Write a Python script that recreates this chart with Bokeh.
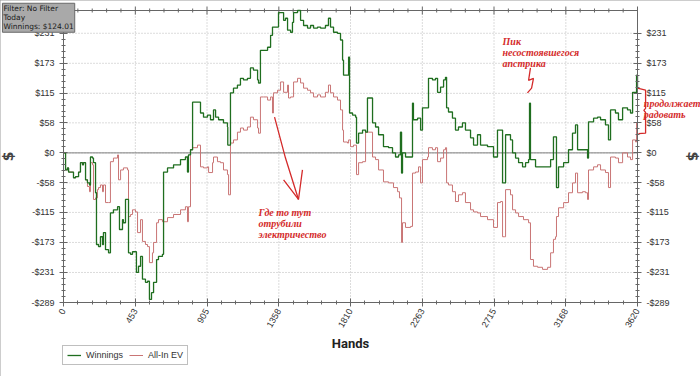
import math
from bokeh.plotting import figure
from bokeh.models import (LinearAxis, FixedTicker, Range1d, Label, Legend, LegendItem)
from bokeh.embed import file_html
from bokeh.resources import INLINE

# ---------------- data ----------------
hands_win = [0,13,25,32,63,76,95,107,120,126,139,151,164,170,183,189,202,208,221,233,
             246,252,265,284,296,315,341,353,372,378,391,404,410,423,435,454,460,473,486,498,
             517,530,542,555,568,587,599,624,631,656,694,738,769,782,788,801,814,864,883,908,
             927,946,959,978,1009,1034,1036,1053,1072,1097,1116,1135,1160,1179,1198,1224,1230,1242,1261,1287,
             1306,1318,1337,1356,1369,1388,1400,1413,1432,1444,1451,1476,1495,1514,1539,1558,1577,1602,1621,1652,
             1671,1684,1703,1728,1747,1760,1766,1791,1798,1804,1823,1842,1848,1861,1886,1905,1917,1936,1949,1968,
             1987,2018,2050,2075,2094,2113,2125,2132,2138,2157,2189,2201,2207,2233,2252,2264,2296,2302,2327,2346,
             2359,2378,2397,2409,2416,2428,2453,2472,2491,2516,2535,2567,2586,2611,2630,2674,2712,2737,2756,2769,
             2781,2788,2819,2832,2851,2870,2895,2914,2933,2939,2945,2977,3008,3040,3072,3090,3103,3109,3122,3154,
             3185,3210,3229,3242,3273,3292,3305,3311,3343,3368,3387,3418,3437,3450,3481,3500,3526,3557,3576,3589,
             3608,3614,3620]
winnings = [0,-33,-29,-37,-48,-46,-37,-19,-23,-19,-52,-58,-62,-8,-10,-19,-77,-177,-181,-162,
            -177,-154,-187,-193,-116,-110,-104,-148,-129,-135,-90,-90,-193,-196,-191,-191,-231,-219,-200,-244,
            -250,-248,-283,-270,-250,-206,-200,-196,-37,-29,-23,-13,-8,-37,-4,6,98,77,69,73,
            64,83,69,64,58,50,15,116,125,131,144,141,144,164,160,141,135,198,198,204,
            227,243,243,271,271,256,260,237,233,252,271,275,256,246,241,246,241,243,241,246,
            260,243,233,231,218,179,150,150,185,77,73,69,19,38,44,40,106,106,58,50,
            35,12,10,0,-8,-4,40,-39,0,-8,-8,96,64,67,44,87,87,144,141,144,
            117,127,141,146,87,79,67,44,50,58,44,29,15,35,15,12,-8,44,44,-58,
            -58,35,25,0,-10,-19,-27,-19,-13,96,-13,-27,-27,-27,-13,31,31,-67,-27,-19,
            6,38,54,6,6,6,-10,60,67,69,64,54,25,83,77,64,87,83,77,117,
            116,150,124]

hands_ev = [0,13,25,32,63,76,95,107,120,126,139,151,164,170,183,189,202,214,221,233,
            246,252,265,284,296,315,341,347,360,378,404,410,423,435,454,467,486,498,517,530,
            542,561,568,587,599,624,656,694,738,769,782,788,801,814,845,864,883,908,915,940,
            946,971,990,1009,1034,1041,1053,1072,1097,1116,1135,1160,1179,1198,1224,1230,1242,1261,1287,1306,
            1318,1324,1350,1369,1388,1413,1419,1432,1451,1476,1495,1514,1539,1558,1577,1602,1621,1652,1671,1684,
            1703,1728,1747,1760,1766,1791,1798,1810,1829,1848,1861,1886,1905,1924,1949,1968,1987,2018,2050,2081,
            2107,2119,2132,2138,2157,2189,2201,2220,2239,2252,2264,2296,2302,2327,2346,2359,2378,2397,2409,2416,
            2428,2453,2472,2491,2516,2535,2567,2586,2611,2630,2674,2712,2737,2756,2769,2781,2788,2819,2832,2851,
            2870,2901,2933,2945,2964,2990,3021,3053,3072,3090,3103,3109,3122,3154,3185,3210,3229,3242,3273,3292,
            3305,3311,3343,3368,3387,3418,3437,3450,3481,3500,3526,3557,3576,3589,3608,3614,3620]
allin_ev = [0,-33,-29,-37,-48,-46,-37,-19,-23,-19,-52,-65,-75,-19,-23,-90,-87,-71,-67,-62,
            -75,-62,-96,-96,-17,-10,-4,-52,-33,-29,-33,-123,-119,-110,-114,-154,-129,-171,-177,-181,
            -212,-193,-173,-135,-129,-133,-125,-119,-110,-104,-133,-104,6,10,15,-27,-29,-27,-38,-19,
            -8,-17,-19,-33,-42,-81,19,25,40,48,44,50,69,64,48,38,108,108,102,108,
            77,116,121,137,117,131,106,108,137,144,135,125,121,116,108,112,108,117,131,116,
            108,102,83,44,21,19,25,12,15,-42,-19,-17,40,40,-8,-13,-33,-56,-58,-67,
            -75,-87,-173,-135,-144,-142,-39,-37,-27,-58,-13,-8,10,6,10,-17,-10,6,10,-58,
            -62,-75,-94,-81,-77,-96,-110,-114,-116,-123,-129,-144,-96,-94,-162,-162,-71,-81,-110,-116,
            -123,-129,-135,-206,-219,-221,-225,-221,-193,-167,-162,-123,-106,-96,-77,-58,-39,-77,-75,-77,
            -90,-33,-27,-23,-33,-38,-67,-8,-10,-19,0,-8,-13,25,21,58,50]

x_ticks = [0, 453, 905, 1358, 1810, 2263, 2715, 3168, 3620]
y_ticks = [-289, -231, -173, -115, -58, 0, 58, 115, 173, 231]
y_labels = ["-$289", "-$231", "-$173", "-$115", "-$58", "$0", "$58", "$115", "$173", "$231"]
X_MIN, X_MAX = 0, 3620
Y_MIN, Y_MAX = -289, 275

info_text = "Filter: No Filter\nToday\nWinnings: $124.01"
note_peak = "Пик\nнесостоявшегося\nапстрика"
note_power = "Где то тут\nотрубили\nэлектричество"
note_right = "продолжает\nрадовать"

# ---------------- layout: frame = whole canvas, axes at fixed locations ----------------
W, H = 700, 376
PL, PR, PT, PB = 63, 637, 10, 302          # pixel box of the plotting area
sx = (X_MAX - X_MIN) / (PR - PL)           # data units per pixel
sy = (Y_MAX - Y_MIN) / (PB - PT)

p = figure(width=W, height=H, output_backend="svg", toolbar_location=None,
           x_range=Range1d(X_MIN - PL * sx, X_MAX + (W - PR) * sx),
           y_range=Range1d(Y_MIN - (H - PB) * sy, Y_MAX + PT * sy),
           min_border=0, background_fill_color="white", border_fill_color="white")
p.outline_line_color = None
p.xgrid.visible = False
p.ygrid.visible = False
p.styles = {"outline": "1px solid #9a9a9a", "outline-offset": "-1px"}


def minors(ticks, n=5):
    out = []
    for a, b in zip(ticks[:-1], ticks[1:]):
        out += [a + (b - a) * k / n for k in range(1, n)]
    return out


x_minor = minors(x_ticks)
y_minor = minors(y_ticks)
xt = FixedTicker(ticks=x_ticks, minor_ticks=x_minor)
yt = FixedTicker(ticks=y_ticks, minor_ticks=y_minor)
ylab = {v: s for v, s in zip(y_ticks, y_labels)}

AX = "#666666"
LBL = "#333333"


def style_axis(ax):
    ax.axis_line_color = AX
    ax.major_tick_line_color = AX
    ax.minor_tick_line_color = AX
    ax.major_tick_in = 4
    ax.major_tick_out = 4
    ax.minor_tick_in = 2
    ax.minor_tick_out = 2
    ax.major_label_text_font = "Liberation Sans"
    ax.major_label_text_font_size = "9px"
    ax.major_label_text_color = LBL


# grid (dotted, only inside the plotting box)
p.segment(x0=x_ticks, x1=x_ticks, y0=[Y_MIN] * len(x_ticks), y1=[Y_MAX] * len(x_ticks),
          line_color="#b8b8b8", line_dash="1 2", line_width=1)
p.segment(x0=[X_MIN] * len(y_ticks), x1=[X_MAX] * len(y_ticks), y0=y_ticks, y1=y_ticks,
          line_color="#b8b8b8", line_dash="1 2", line_width=1)
# zero line
p.segment(x0=[X_MIN], x1=[X_MAX], y0=[0], y1=[0], line_color="#808080", line_width=1)
# top border with ticks
p.segment(x0=[X_MIN], x1=[X_MAX], y0=[Y_MAX], y1=[Y_MAX], line_color=AX, line_width=1)
p.segment(x0=x_ticks, x1=x_ticks, y0=[Y_MAX - 4 * sy] * len(x_ticks),
          y1=[Y_MAX + 4 * sy] * len(x_ticks), line_color=AX)
p.segment(x0=x_minor, x1=x_minor, y0=[Y_MAX - 2 * sy] * len(x_minor),
          y1=[Y_MAX + 2 * sy] * len(x_minor), line_color=AX)

# bottom axis
xa = p.xaxis[0]
xa.ticker = xt
style_axis(xa)
xa.fixed_location = Y_MIN
xa.bounds = (X_MIN, X_MAX)
xa.major_label_orientation = math.pi / 3
xa.major_label_standoff = 3
xa.axis_label = "Hands"
xa.axis_label_text_font = "Roboto"
xa.axis_label_text_font_style = "bold"
xa.axis_label_text_font_size = "13px"
xa.axis_label_text_color = "#222222"
xa.axis_label_standoff = 3

# left axis
ya = p.yaxis[0]
ya.ticker = yt
style_axis(ya)
ya.fixed_location = X_MIN
ya.bounds = (Y_MIN, Y_MAX)
ya.major_label_overrides = ylab
ya.axis_label = "$"
ya.axis_label_text_font = "DejaVu Sans"
ya.axis_label_text_font_style = "bold"
ya.axis_label_text_font_size = "14px"
ya.axis_label_standoff = 12

# right axis
ra = LinearAxis(ticker=yt, fixed_location=X_MAX, bounds=(Y_MIN, Y_MAX))
style_axis(ra)
ra.major_label_overrides = ylab
ra.axis_label = "$"
ra.axis_label_text_font = "DejaVu Sans"
ra.axis_label_text_font_style = "bold"
ra.axis_label_text_font_size = "14px"
ra.axis_label_standoff = 12
p.add_layout(ra, "right")

# series
r_ev = p.step(hands_ev, allin_ev, mode="after", line_color="#c97575", line_width=1)
r_win = p.step(hands_win, winnings, mode="after", line_color="#1f6e1f", line_width=1.3)

legend = Legend(items=[LegendItem(label="Winnings", renderers=[r_win]),
                       LegendItem(label="All-In EV", renderers=[r_ev])],
                location=(62, 11), orientation="horizontal",
                glyph_width=14, glyph_height=10, label_height=10,
                label_text_font="Liberation Sans", label_text_font_size="9px",
                label_text_color=LBL, padding=4, margin=0, spacing=6,
                border_line_color="#808080", background_fill_color="white",
                label_standoff=5)
p.add_layout(legend)

# info box at top-left
p.add_layout(Label(x=-385, y=289, text=info_text, text_baseline="top", text_align="left",
                   text_font="DejaVu Sans", text_font_size="7.5px", text_color="#1a1a1a",
                   text_line_height=1.0,
                   background_fill_color="#a9a9a9", border_line_color="#6a6a6a",
                   padding=1))

# red hand annotations
RED = "#d42b2b"
for txt, x, y in [(note_peak, 2769, 225), (note_power, 1230, -104), (note_right, 3660, 106)]:
    p.add_layout(Label(x=x, y=y, text=txt, text_baseline="top", text_align="left",
                       text_font="Liberation Serif", text_font_style="bold italic",
                       text_font_size="10px", text_color=RED, text_line_height=1.0))

arrow_shaft_x = [1331, 1400, 1482]
arrow_shaft_y = [69, -10, -90]
arrow_head_x = [1388, 1482, 1507]
arrow_head_y = [-52, -90, -33]
squiggle_x = [2945, 2933, 2964, 2952, 2926]
squiggle_y = [164, 140, 144, 125, 116]
brace_x = [3620, 3671, 3671, 3660, 3671, 3671, 3626]
brace_y = [125, 121, 86, 82, 78, 38, 37]

for xs, ys in [(arrow_shaft_x, arrow_shaft_y), (arrow_head_x, arrow_head_y),
               (squiggle_x, squiggle_y), (brace_x, brace_y)]:
    p.line(xs, ys, line_color=RED, line_width=1.3)

open("out.html", "w").write(file_html(p, INLINE))
